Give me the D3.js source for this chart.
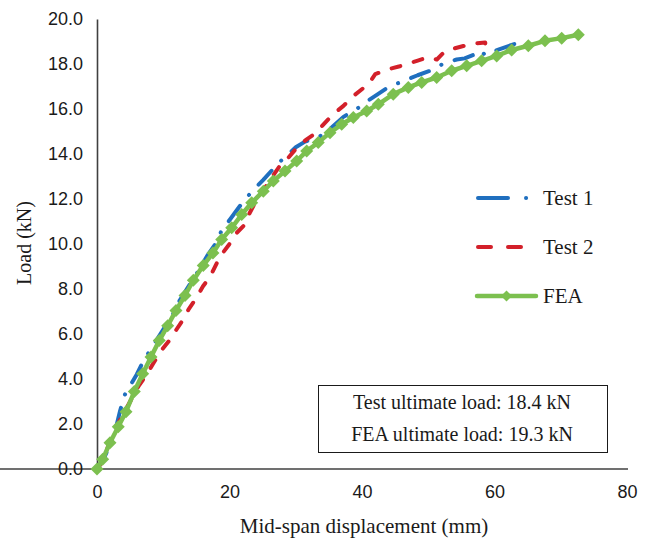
<!DOCTYPE html>
<html><head><meta charset="utf-8">
<script src="https://cdn.jsdelivr.net/npm/d3@7"></script>
<style>body{margin:0;background:#fff}svg{display:block}</style>
</head><body>
<script>
// ---- data ----
const xTicks = [0, 20, 40, 60, 80];
const yTicks = [0, 2, 4, 6, 8, 10, 12, 14, 16, 18, 20];
const seriesNames = ["Test 1", "Test 2", "FEA"];
const test1 = [[0,0],[1,0.45],[2,1.1],[3,2.0],[3.5,2.6],[4.2,3.3],[5,3.7],[6,4.2],[7,4.8],[8.5,5.5],[10,6.2],[11.5,6.9],[12.5,7.5],[14,8.2],[15.5,8.9],[16.6,9.46],[18.1,10.1],[18.8,10.6],[20.1,11.1],[22.1,11.9],[23.6,12.4],[25.1,12.85],[27.4,13.6],[28.9,14.0],[30,14.3],[31.4,14.55],[33.7,14.8],[35.5,15.2],[37.2,15.65],[39.2,16.0],[40.8,16.35],[42.4,16.66],[43.9,16.96],[46.2,17.24],[48.4,17.5],[50.3,17.7],[52.2,18.0],[54.3,18.2],[55.5,18.25],[56.8,18.4],[58.1,18.6],[58.5,18.4],[60.8,18.66],[63.1,18.9]];
const test2 = [[0,0],[1,0.4],[2.2,1.5],[3.5,2.2],[5,3.0],[6.3,3.7],[7.5,4.2],[8.4,4.65],[9.8,5.3],[10.8,5.67],[12,6.2],[13,6.64],[13.8,7.08],[15,7.6],[16,8.12],[17.1,8.56],[18.1,9.16],[19.1,9.65],[20.3,10.12],[21.1,10.5],[22.1,10.8],[22.8,11.24],[23.85,11.83],[24.6,12.13],[26,12.8],[27.6,13.47],[28.9,13.84],[30.4,14.36],[31.65,14.65],[32.9,14.9],[34.9,15.54],[36,15.85],[37.2,16.14],[38.7,16.58],[40.95,17.1],[42,17.55],[44,17.77],[45.7,17.9],[46.7,18.0],[48.3,18.14],[50,18.3],[51.3,18.2],[52.3,18.5],[53.5,18.66],[55.3,18.8],[56.8,18.9],[58.6,18.96],[58.7,18.5]];
const fea = [[0,0],[0.86,0.43],[1.96,1.17],[3.21,1.88],[4.38,2.55],[5.63,3.44],[6.9,4.23],[8.15,4.98],[9.4,5.71],[10.67,6.37],[11.92,7.04],[13.28,7.71],[14.54,8.39],[16.04,9.05],[17.5,9.6],[18.82,10.2],[20.33,10.72],[21.84,11.31],[23.35,11.83],[25.1,12.35],[26.61,12.8],[28.38,13.24],[30.14,13.69],[31.65,14.13],[33.4,14.51],[35.17,14.95],[36.93,15.32],[38.69,15.62],[40.71,15.91],[42.46,16.21],[44.72,16.66],[46.99,16.96],[49.01,17.18],[51.27,17.4],[53.54,17.7],[55.8,17.92],[58.06,18.14],[60.33,18.36],[62.59,18.62],[65.1,18.81],[67.62,19.03],[70.14,19.15],[72.65,19.3]];
const boxLines = ["Test ultimate load: 18.4 kN", "FEA ultimate load: 19.3 kN"];
const xTitle = "Mid-span displacement (mm)";
const yTitle = "Load (kN)";

// ---- drawing ----
const W = 654, H = 540;
const svg = d3.select("body").append("svg").attr("width", W).attr("height", H);
const x = d3.scaleLinear().domain([0, 80]).range([97, 627]);
const y = d3.scaleLinear().domain([0, 20]).range([469, 19]);
const BLUE = "#1f6fbf", RED = "#d3202a", GREEN = "#7cc04f", AXIS = "#404040";
const tickFont = "'Liberation Sans', Arial, sans-serif";
const serif = "'Liberation Serif', 'Times New Roman', serif";

// axes
const xAxis = svg.append("g").attr("transform", `translate(0,${y(0)})`)
  .call(d3.axisBottom(x).tickValues(xTicks).tickSize(0).tickPadding(16).tickFormat(d3.format("d")));
const yAxis = svg.append("g").attr("transform", `translate(${x(0)},0)`)
  .call(d3.axisLeft(y).tickValues(yTicks).tickSize(0).tickPadding(14).tickFormat(d3.format(".1f")));
[xAxis, yAxis].forEach(g => {
  g.select(".domain").attr("stroke", AXIS).attr("stroke-width", 1.6);
  g.selectAll("text").attr("font-family", tickFont).attr("font-size", 18).attr("fill", "#1a1a1a");
});
xAxis.select(".domain").attr("d", `M0,0H${x(80)+1}`);

// titles
svg.append("text").attr("x", 364).attr("y", 533).attr("text-anchor", "middle")
  .attr("font-family", serif).attr("font-size", 21).attr("fill", "#1a1a1a").text(xTitle);
svg.append("text").attr("transform", "translate(31,243) rotate(-90)").attr("text-anchor", "middle")
  .attr("font-family", serif).attr("font-size", 20).attr("fill", "#1a1a1a").text(yTitle);

// series
const line = d3.line().x(d => x(d[0])).y(d => y(d[1]));
svg.append("path").datum(test1).attr("d", line).attr("fill", "none").attr("stroke", BLUE)
  .attr("stroke-width", 4).attr("stroke-linecap", "round").attr("stroke-linejoin", "round")
  .attr("stroke-dasharray", "19,14,0.1,14");
svg.append("path").datum(test2).attr("d", line).attr("fill", "none").attr("stroke", RED)
  .attr("stroke-width", 4).attr("stroke-linecap", "round").attr("stroke-linejoin", "round")
  .attr("stroke-dasharray", "9,14");
svg.append("path").datum(fea).attr("d", line).attr("fill", "none").attr("stroke", GREEN)
  .attr("stroke-width", 4.5).attr("stroke-linejoin", "round");
const diamond = r => `M0,${-r}L${r},0L0,${r}L${-r},0Z`;
svg.append("g").selectAll("path").data(fea).join("path")
  .attr("transform", d => `translate(${x(d[0])},${y(d[1])})`)
  .attr("d", diamond(6.5)).attr("fill", GREEN);

// legend
const leg = svg.append("g");
const ly = [198, 247, 296];
leg.append("line").attr("x1", 478).attr("x2", 527).attr("y1", ly[0]).attr("y2", ly[0])
  .attr("stroke", BLUE).attr("stroke-width", 4).attr("stroke-linecap", "round").attr("stroke-dasharray", "30,18,0.1,60");
leg.append("line").attr("x1", 478).attr("x2", 521).attr("y1", ly[1]).attr("y2", ly[1])
  .attr("stroke", RED).attr("stroke-width", 4).attr("stroke-linecap", "round").attr("stroke-dasharray", "13,17");
leg.append("line").attr("x1", 477).attr("x2", 536).attr("y1", ly[2]).attr("y2", ly[2])
  .attr("stroke", GREEN).attr("stroke-width", 4.5).attr("stroke-linecap", "round");
leg.append("path").attr("transform", `translate(506.5,${ly[2]})`).attr("d", diamond(5.5)).attr("fill", GREEN);
seriesNames.forEach((n, i) => {
  leg.append("text").attr("x", 543).attr("y", ly[i] + 7).attr("font-family", serif)
    .attr("font-size", 21).attr("fill", "#1a1a1a").text(n);
});

// annotation box
svg.append("rect").attr("x", 318.5).attr("y", 385.5).attr("width", 289).attr("height", 67)
  .attr("fill", "#fff").attr("stroke", "#1a1a1a").attr("stroke-width", 1);
boxLines.forEach((t, i) => {
  svg.append("text").attr("x", 462).attr("y", 409 + i * 32).attr("text-anchor", "middle")
    .attr("font-family", serif).attr("font-size", 20).attr("fill", "#1a1a1a").text(t);
});
</script>
</body></html>
